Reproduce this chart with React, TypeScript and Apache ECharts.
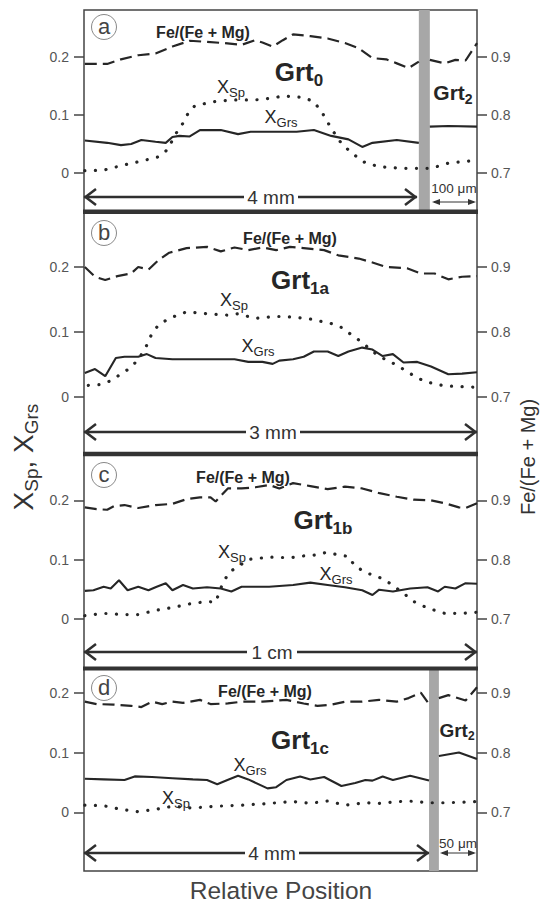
import React, { useEffect, useRef } from 'react';
import * as echarts from 'echarts';

const FONT = '"Liberation Sans", Arial, Helvetica, sans-serif';
const INK = '#262626';

// tick labels
const leftTicks = [0, 0.1, 0.2];
const rightTicks = [0.7, 0.8, 0.9];

// ---- panel a (Grt0) : [relative position %, value]
const aFeCore = [[0.2,0.888],[5.9,0.888],[9.4,0.896],[13.8,0.903],[18.2,0.906],[22.5,0.918],[26.9,0.928],[31.3,0.926],[35.7,0.924],[40.1,0.921],[43.6,0.929],[45.4,0.925],[48.0,0.918],[50.6,0.929],[53.2,0.939],[57.6,0.936],[62.0,0.932],[66.4,0.924],[69.9,0.915],[73.4,0.898],[76.9,0.896],[79.6,0.889],[82.6,0.881],[85.2,0.892]];
const aFeRim = [[88.0,0.895],[91.8,0.889],[94.5,0.895],[97.1,0.894],[100,0.924]];
const aGrsCore = [[0.2,0.056],[5.9,0.052],[9.4,0.048],[12.0,0.050],[14.6,0.057],[18.2,0.054],[20.8,0.052],[22.5,0.062],[24.3,0.064],[26.9,0.063],[29.5,0.074],[34.8,0.074],[39.2,0.067],[42.4,0.071],[48.0,0.071],[54.1,0.071],[58.5,0.074],[62.9,0.064],[67.3,0.058],[70.8,0.045],[73.4,0.052],[79.6,0.057],[85.2,0.052]];
const aGrsRim = [[88.0,0.080],[92.7,0.081],[100,0.080]];
const aSp = [[0.2,0.004],[5.0,0.005],[10.3,0.014],[15.5,0.022],[19.0,0.028],[21.2,0.040],[23.4,0.068],[25.2,0.086],[26.5,0.103],[28.2,0.116],[33.1,0.123],[38.3,0.126],[43.6,0.126],[48.0,0.129],[50.6,0.133],[55.9,0.130],[58.5,0.123],[60.7,0.103],[62.9,0.077],[65.5,0.051],[68.2,0.034],[71.7,0.017],[75.2,0.011],[80.4,0.008],[85.3,0.008],[88.3,0.008],[92.7,0.017],[100,0.022]];
const aBar = [85.2, 88.0];

// ---- panel b (Grt1a)
const bFe = [[0.2,0.900],[2.8,0.885],[5.4,0.880],[8.5,0.886],[12.0,0.890],[13.8,0.900],[16.4,0.896],[19.0,0.911],[21.7,0.922],[26.1,0.929],[31.3,0.931],[34.8,0.924],[38.3,0.930],[41.8,0.926],[45.4,0.930],[48.9,0.926],[52.4,0.931],[55.9,0.929],[61.1,0.926],[64.7,0.918],[69.9,0.913],[73.4,0.907],[76.9,0.900],[82.2,0.898],[85.7,0.890],[89.2,0.890],[92.7,0.881],[96.2,0.885],[100,0.886]];
const bGrs = [[0.2,0.037],[2.8,0.043],[5.4,0.032],[8.1,0.060],[10.3,0.062],[13.8,0.062],[16.0,0.066],[18.2,0.060],[22.5,0.058],[31.3,0.058],[38.3,0.058],[41.8,0.054],[45.4,0.054],[48.0,0.051],[49.7,0.056],[53.2,0.058],[55.9,0.062],[58.5,0.070],[62.0,0.070],[64.7,0.063],[67.3,0.070],[70.8,0.076],[73.4,0.073],[76.0,0.063],[78.6,0.066],[81.3,0.053],[84.8,0.054],[88.3,0.047],[92.7,0.035],[96.2,0.036],[100,0.038]];
const bSp = [[1.1,0.018],[4.1,0.019],[6.8,0.025],[11.1,0.042],[13.8,0.057],[16.0,0.080],[17.3,0.098],[19.0,0.111],[21.7,0.121],[26.1,0.131],[31.3,0.128],[36.6,0.126],[39.2,0.128],[43.6,0.121],[48.9,0.124],[53.2,0.123],[57.6,0.120],[62.9,0.113],[65.5,0.107],[68.2,0.095],[70.8,0.084],[73.4,0.070],[76.0,0.060],[79.6,0.049],[83.0,0.036],[86.6,0.024],[91.8,0.017],[96.2,0.016],[100,0.015]];

// ---- panel c (Grt1b)
const cFe = [[0.2,0.888],[3.2,0.885],[5.9,0.884],[7.6,0.890],[10.3,0.892],[13.8,0.887],[18.2,0.892],[22.5,0.894],[26.1,0.902],[29.5,0.905],[32.2,0.905],[33.5,0.898],[36.6,0.920],[40.1,0.920],[43.6,0.922],[47.1,0.926],[49.7,0.920],[53.2,0.929],[57.6,0.924],[62.0,0.919],[66.4,0.923],[70.8,0.920],[75.2,0.912],[79.6,0.906],[83.9,0.901],[88.3,0.900],[91.8,0.895],[95.4,0.888],[97.1,0.887],[100,0.895]];
const cGrs = [[0.2,0.047],[2.4,0.048],[5.0,0.054],[6.8,0.051],[8.9,0.065],[11.1,0.048],[13.8,0.054],[16.4,0.048],[18.5,0.054],[20.8,0.060],[22.5,0.048],[25.2,0.057],[27.7,0.051],[31.3,0.053],[34.8,0.051],[37.5,0.046],[40.1,0.054],[47.1,0.054],[53.2,0.057],[57.6,0.061],[62.0,0.057],[66.4,0.053],[70.8,0.048],[73.4,0.040],[75.1,0.049],[78.6,0.046],[83.0,0.051],[87.4,0.053],[90.1,0.046],[91.8,0.054],[94.5,0.051],[97.1,0.060],[100,0.059]];
const cSp = [[0.2,0.005],[5.0,0.009],[10.3,0.007],[13.8,0.007],[18.2,0.014],[22.5,0.019],[26.9,0.025],[31.3,0.029],[33.5,0.028],[35.3,0.060],[37.0,0.079],[39.2,0.088],[41.8,0.100],[47.1,0.104],[52.4,0.103],[55.9,0.106],[59.4,0.108],[61.6,0.112],[64.7,0.108],[67.3,0.105],[69.0,0.088],[72.5,0.076],[75.1,0.070],[77.8,0.060],[81.3,0.043],[83.9,0.029],[87.4,0.018],[91.8,0.009],[96.2,0.009],[100,0.011]];

// ---- panel d (Grt1c)
const dFeCore = [[0.2,0.885],[3.2,0.881],[7.6,0.880],[12.0,0.878],[14.6,0.876],[17.3,0.885],[19.9,0.881],[22.5,0.885],[25.2,0.883],[29.5,0.888],[32.2,0.881],[36.6,0.882],[40.1,0.885],[45.4,0.885],[51.5,0.888],[55.9,0.882],[59.4,0.878],[62.9,0.880],[66.4,0.885],[70.8,0.885],[75.1,0.888],[79.6,0.885],[82.6,0.891],[85.7,0.900],[87.8,0.881]];
const dFeRim = [[90.3,0.891],[92.7,0.896],[97.1,0.887],[100,0.909]];
const dGrsCore = [[0.2,0.056],[5.0,0.055],[10.3,0.054],[12.9,0.060],[17.3,0.059],[22.5,0.057],[27.7,0.055],[31.3,0.054],[33.9,0.047],[36.5,0.054],[39.2,0.061],[41.8,0.055],[46.7,0.040],[48.9,0.042],[51.5,0.054],[55.0,0.060],[57.6,0.055],[61.1,0.059],[65.5,0.044],[69.0,0.049],[71.6,0.054],[73.4,0.053],[76.0,0.060],[78.6,0.054],[83.0,0.061],[87.8,0.053]];
const dGrsRim = [[90.3,0.094],[95.4,0.100],[100,0.089]];
const dSp = [[0.2,0.012],[5.0,0.011],[9.4,0.005],[13.8,0.001],[18.2,0.005],[22.5,0.010],[27.7,0.007],[33.0,0.010],[40.1,0.012],[45.4,0.014],[53.2,0.018],[57.6,0.015],[62.0,0.019],[66.4,0.012],[71.6,0.016],[75.1,0.015],[82.2,0.019],[87.9,0.016],[92.7,0.016],[100,0.018]];
const dBar = [87.8, 90.3];

// layout of the four stacked panels (pixels) and their left-axis ranges
const FRAME_L = 84;
const FRAME_W = 393;
const panelTops = [10, 212, 454, 668.5];
const panelHeights = [202, 242, 214.5, 202.5];
const panelMin = [-0.06724, -0.08769, -0.08412, -0.09816];
const panelMax = [0.28103, 0.28462, 0.27821, 0.24047];
const RIGHT_OFFSET = 0.7;

function txt(x: number, y: number, text: string, size: number, o: any = {}) {
  return {
    type: 'text', x, y, z: 100, rotation: o.rot || 0,
    style: {
      text, fontSize: size, fontFamily: FONT, fontWeight: o.bold ? 'bold' : 'normal',
      fill: o.color || INK, align: o.align || 'center', verticalAlign: 'middle',
    },
  };
}

function subTxt(x: number, y: number, parts: string[][], F: number, f: number, o: any = {}) {
  const p = 1.05 * F - 0.85 * f;
  const w = o.bold ? 'bold' : 'normal';
  const color = o.color || INK;
  return {
    type: 'text', x, y, z: 100, rotation: o.rot || 0,
    style: {
      text: parts.map(([m, s]) => `{m|${m}}{s|${s}}`).join(''),
      align: 'center', verticalAlign: 'middle',
      rich: {
        m: { fontSize: F, fontFamily: FONT, fontWeight: w, fill: color, lineHeight: F, verticalAlign: 'top' },
        s: { fontSize: f, fontFamily: FONT, fontWeight: w, fill: color, lineHeight: f, padding: [p, 0, 0, 0], verticalAlign: 'top' },
      },
    },
  };
}

function dimArrow(y: number, x1: number, x2: number, label: string, cx: number, half: number) {
  const st = { stroke: '#2f2f2f', lineWidth: 2.5 };
  return [
    { type: 'line', z: 100, shape: { x1, y1: y, x2: cx - half, y2: y }, style: st },
    { type: 'line', z: 100, shape: { x1: cx + half, y1: y, x2, y2: y }, style: st },
    { type: 'polyline', z: 100, shape: { points: [[x1 + 12, y - 8], [x1 + 1.5, y], [x1 + 12, y + 8]] }, style: { ...st, fill: null } },
    { type: 'polyline', z: 100, shape: { points: [[x2 - 12, y - 8], [x2 - 1.5, y], [x2 - 12, y + 8]] }, style: { ...st, fill: null } },
    txt(cx, y, label, 19, { color: '#333' }),
  ];
}

function smallArrow(y: number, x1: number, x2: number) {
  const st = { stroke: '#333', lineWidth: 1 };
  return [
    { type: 'line', z: 100, shape: { x1: x1 + 2, y1: y, x2: x2 - 2, y2: y }, style: st },
    { type: 'polygon', z: 100, shape: { points: [[x1, y], [x1 + 8, y - 3], [x1 + 8, y + 3]] }, style: { fill: '#333' } },
    { type: 'polygon', z: 100, shape: { points: [[x2, y], [x2 - 8, y - 3], [x2 - 8, y + 3]] }, style: { fill: '#333' } },
  ];
}

function circled(cx: number, cy: number, letter: string) {
  return [
    { type: 'circle', z: 100, shape: { cx, cy, r: 12.5 }, style: { fill: '#fff', stroke: '#888', lineWidth: 1 } },
    txt(cx, cy - 1, letter, 22, { color: '#444' }),
  ];
}

export default function App() {
  const ref = useRef<HTMLDivElement>(null);
  useEffect(() => {
    if (!ref.current) return;
    const chart = echarts.init(ref.current, undefined, { renderer: 'svg' });

    const grids = panelTops.map((t, i) => ({
      left: FRAME_L, width: FRAME_W, top: t, height: panelHeights[i],
      show: true, borderColor: '#444', borderWidth: 1.5, backgroundColor: 'transparent',
    }));
    const xAxes = panelTops.map((_, i) => ({ gridIndex: i, type: 'value', min: 0, max: 100, show: false }));
    const yAxes: any[] = [];
    panelTops.forEach((_, i) => {
      const common = {
        gridIndex: i, type: 'value', splitLine: { show: false },
        axisLine: { show: false },
        axisTick: { show: true, length: 10, lineStyle: { color: '#444', width: 1.5 } },
      };
      yAxes.push({
        ...common, position: 'left', min: panelMin[i], max: panelMax[i],
        axisTick: { ...common.axisTick, customValues: leftTicks },
        axisLabel: {
          customValues: leftTicks, margin: 15, color: '#555', fontSize: 14, fontFamily: FONT,
          formatter: (v: number) => (Math.abs(v) < 1e-9 ? '0' : v.toFixed(1)),
        },
      });
      yAxes.push({
        ...common, position: 'right', min: panelMin[i] + RIGHT_OFFSET, max: panelMax[i] + RIGHT_OFFSET,
        axisTick: { ...common.axisTick, customValues: rightTicks },
        axisLabel: {
          customValues: rightTicks, margin: 14, color: '#555', fontSize: 14, fontFamily: FONT,
          formatter: (v: number) => v.toFixed(1),
        },
      });
    });

    const dashed = { type: [12, 6], width: 2.2, color: INK };
    const dotted = { type: [0.1, 10.5], width: 3.2, color: INK, cap: 'round' };
    const solid = { type: 'solid', width: 2.1, color: INK };
    const line = (i: number, right: boolean, data: number[][], ls: any, extra: any = {}) => ({
      type: 'line', xAxisIndex: i, yAxisIndex: 2 * i + (right ? 1 : 0), data,
      showSymbol: false, symbol: 'none', smooth: false, lineStyle: ls, silent: true, ...extra,
    });
    const barArea = (range: number[]) => ({
      z: 5,
      markArea: {
        silent: true, itemStyle: { color: '#a7a7a7' },
        data: [[{ xAxis: range[0] }, { xAxis: range[1] }]],
      },
    });

    const series = [
      line(0, true, aFeCore, dashed), line(0, true, aFeRim, dashed),
      line(0, false, aSp, dotted),
      line(0, false, aGrsCore, solid), line(0, false, aGrsRim, solid, barArea(aBar)),
      line(1, true, bFe, dashed), line(1, false, bSp, dotted), line(1, false, bGrs, solid),
      line(2, true, cFe, dashed), line(2, false, cSp, dotted), line(2, false, cGrs, solid),
      line(3, true, dFeCore, dashed), line(3, true, dFeRim, dashed),
      line(3, false, dSp, dotted),
      line(3, false, dGrsCore, solid), line(3, false, dGrsRim, solid, barArea(dBar)),
    ];

    const sep = (y: number, h: number) => ({ type: 'rect', z: 90, shape: { x: FRAME_L - 1, y, width: FRAME_W + 2, height: h }, style: { fill: '#333' } });
    const fe = 'Fe/(Fe + Mg)';
    const elements: any[] = [
      sep(209.5, 4.5), sep(451.8, 4.5), sep(666.5, 4),
      // panel a
      ...circled(104, 27, 'a'),
      txt(203, 32, fe, 16, { bold: true }),
      subTxt(299, 72, [['Grt', '0']], 26, 17, { bold: true }),
      subTxt(231, 87, [['X', 'Sp']], 18, 13),
      subTxt(281, 117, [['X', 'Grs']], 18, 13),
      subTxt(453, 92, [['Grt', '2']], 21, 14, { bold: true }),
      ...dimArrow(197, 84, 417, '4 mm', 271, 27),
      txt(454, 188, '100 μm', 13.5, { color: '#333' }),
      ...smallArrow(202, 432, 476),
      // panel b
      ...circled(104, 233, 'b'),
      txt(290, 238, fe, 16, { bold: true }),
      subTxt(300, 280, [['Grt', '1a']], 26, 17, { bold: true }),
      subTxt(234, 300, [['X', 'Sp']], 18, 13),
      subTxt(258, 346, [['X', 'Grs']], 18, 13),
      ...dimArrow(432, 84, 477, '3 mm', 273, 27),
      // panel c
      ...circled(104, 475, 'c'),
      txt(243, 477, fe, 16, { bold: true }),
      subTxt(323, 520, [['Grt', '1b']], 26, 17, { bold: true }),
      subTxt(232, 552, [['X', 'Sp']], 18, 13),
      subTxt(336, 574, [['X', 'Grs']], 18, 13),
      ...dimArrow(652, 84, 477, '1 cm', 272, 25),
      // panel d
      ...circled(104, 688, 'd'),
      txt(265, 691, fe, 16, { bold: true }),
      subTxt(300, 740, [['Grt', '1c']], 26, 17, { bold: true }),
      subTxt(457, 730, [['Grt', '2']], 19, 12, { bold: true }),
      subTxt(250, 765, [['X', 'Grs']], 18, 13),
      subTxt(176, 798, [['X', 'Sp']], 18, 13),
      ...dimArrow(853, 84, 429, '4 mm', 272, 27),
      txt(458, 843, '50 μm', 13.5, { color: '#333' }),
      ...smallArrow(853, 440, 476),
      // axis titles
      subTxt(23, 457, [['X', 'Sp'], [', X', 'Grs']], 28, 19, { rot: Math.PI / 2, color: '#333' }),
      txt(528, 457, fe, 20, { rot: Math.PI / 2, color: '#333' }),
      txt(281, 890, 'Relative Position', 24.5, { color: '#444' }),
    ];

    chart.setOption({
      animation: false,
      backgroundColor: '#fff',
      grid: grids,
      xAxis: xAxes,
      yAxis: yAxes,
      series,
      graphic: { elements },
    });
    return () => chart.dispose();
  }, []);

  return (
    <div
      ref={ref}
      style={{ position: 'absolute', left: 0, top: 0, width: 541, height: 903, background: '#fff' }}
    />
  );
}
